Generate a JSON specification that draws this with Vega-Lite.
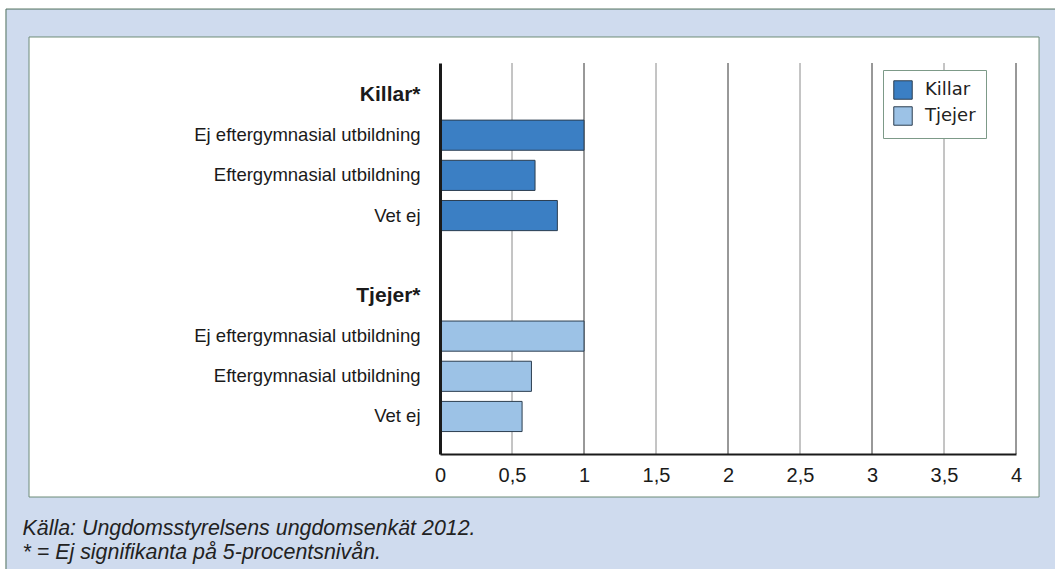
{
  "$schema": "https://vega.github.io/schema/vega-lite/v6.json",
  "width": 576,
  "height": 391,
  "autosize": {"type": "none"},
  "padding": {"left": 440, "top": 63, "right": 39, "bottom": 115},
  "background": "white",
  "config": {"view": {"stroke": null}, "font": "Liberation Sans"},
  "datasets": {
    "bars": [
      {"group": "Killar", "row": "Killar|Ej eftergymnasial utbildning", "value": 1.0},
      {"group": "Killar", "row": "Killar|Eftergymnasial utbildning", "value": 0.66},
      {"group": "Killar", "row": "Killar|Vet ej", "value": 0.815},
      {"group": "Tjejer", "row": "Tjejer|Ej eftergymnasial utbildning", "value": 1.0},
      {"group": "Tjejer", "row": "Tjejer|Eftergymnasial utbildning", "value": 0.635},
      {"group": "Tjejer", "row": "Tjejer|Vet ej", "value": 0.57}
    ],
    "grid": [
      {"tick": 0.5}, {"tick": 1}, {"tick": 1.5}, {"tick": 2},
      {"tick": 2.5}, {"tick": 3}, {"tick": 3.5}, {"tick": 4}
    ]
  },
  "layer": [
    {
      "data": {"values": [{}]},
      "mark": {"type": "rect", "fill": "#cfdbee", "stroke": "#4f6f5c", "strokeWidth": 1},
      "encoding": {
        "x": {"datum": -3.014, "type": "quantitative", "scale": {"domain": [0, 4], "nice": false}},
        "x2": {"datum": 4.4},
        "y": {"datum": 1.138, "type": "quantitative", "scale": {"domain": [0, 1], "nice": false, "zero": false}, "axis": null},
        "y2": {"datum": -0.5}
      }
    },
    {
      "data": {"values": [{}]},
      "mark": {"type": "rect", "fill": "white", "stroke": "#6d8c78", "strokeWidth": 1},
      "encoding": {
        "x": {"datum": -2.854, "type": "quantitative", "scale": {"domain": [0, 4], "nice": false}},
        "x2": {"datum": 4.16},
        "y": {"datum": 1.0665, "type": "quantitative", "scale": {"domain": [0, 1], "nice": false, "zero": false}, "axis": null},
        "y2": {"datum": -0.11}
      }
    },
    {
      "data": {"name": "grid"},
      "mark": {"type": "rule", "strokeWidth": 1},
      "encoding": {
        "x": {"field": "tick", "type": "quantitative", "scale": {"domain": [0, 4], "nice": false}},
        "color": {"condition": {"test": "datum.tick % 1 == 0", "value": "#333333"}, "value": "#8a8a8a"}
      }
    },
    {
      "data": {"name": "bars"},
      "mark": {"type": "bar", "stroke": "#2c3e50", "strokeWidth": 1},
      "encoding": {
        "y": {
          "field": "row",
          "type": "nominal",
          "scale": {
            "domain": ["Killar*", "Killar|Ej eftergymnasial utbildning", "Killar|Eftergymnasial utbildning", "Killar|Vet ej", "|", "Tjejer*", "Tjejer|Ej eftergymnasial utbildning", "Tjejer|Eftergymnasial utbildning", "Tjejer|Vet ej"],
            "paddingInner": 0.25,
            "paddingOuter": 0.49,
            "align": 0.43
          },
          "axis": {
            "title": null,
            "domain": true,
            "domainColor": "#1a1a1a",
            "domainWidth": 3,
            "ticks": false,
            "labelPadding": 20,
            "labelLimit": 400,
            "labelExpr": "peek(split(datum.value, '|'))",
            "labelFont": "Liberation Sans",
            "labelFontSize": {"condition": {"test": "indexof(datum.value, '*') >= 0", "value": 21}, "value": 18.5},
            "labelFontWeight": {"condition": {"test": "indexof(datum.value, '*') >= 0", "value": "bold"}, "value": "normal"},
            "labelColor": "#1a1a1a",
            "zindex": 1
          }
        },
        "x": {
          "field": "value",
          "type": "quantitative",
          "scale": {"domain": [0, 4], "nice": false},
          "axis": {
            "title": ["Källa: Ungdomsstyrelsens ungdomsenkät 2012.", "* = Ej signifikanta på 5-procentsnivån."],
            "titleX": -418,
            "titleY": 80,
            "titleAlign": "left",
            "titleAnchor": "start",
            "titleBaseline": "alphabetic",
            "titleFont": "Liberation Sans",
            "titleFontStyle": "italic",
            "titleFontWeight": "normal",
            "titleFontSize": 21.4,
            "titleLineHeight": 24,
            "titleColor": "#222222",
            "grid": false,
            "ticks": false,
            "domainColor": "#1a1a1a",
            "domainWidth": 2,
            "values": [0, 0.5, 1, 1.5, 2, 2.5, 3, 3.5, 4],
            "labelExpr": "replace(format(datum.value, '~g'), '.', ',')",
            "labelFont": "Liberation Sans",
            "labelFontSize": 20,
            "labelPadding": 11,
            "labelColor": "#1a1a1a",
            "labelFlush": false,
            "labelOverlap": false,
            "zindex": 1
          }
        },
        "color": {
          "field": "group",
          "type": "nominal",
          "scale": {"domain": ["Killar", "Tjejer"], "range": ["#3b7fc4", "#9cc2e6"]},
          "legend": {
            "title": null,
            "orient": "none",
            "legendX": 443,
            "legendY": 7,
            "padding": 10,
            "fillColor": "white",
            "strokeColor": "#7d9a88",
            "symbolType": "square",
            "symbolSize": 340,
            "symbolStrokeColor": "#2c3e50",
            "symbolStrokeWidth": 1,
            "labelFont": "DejaVu Sans",
            "labelFontSize": 18,
            "labelColor": "#222222",
            "labelOffset": 12,
            "labelExpr": "datum.label + '\u00a0\u00a0\u00a0'",
            "rowPadding": 2
          }
        }
      }
    }
  ],
  "resolve": {"scale": {"y": "independent"}}
}
